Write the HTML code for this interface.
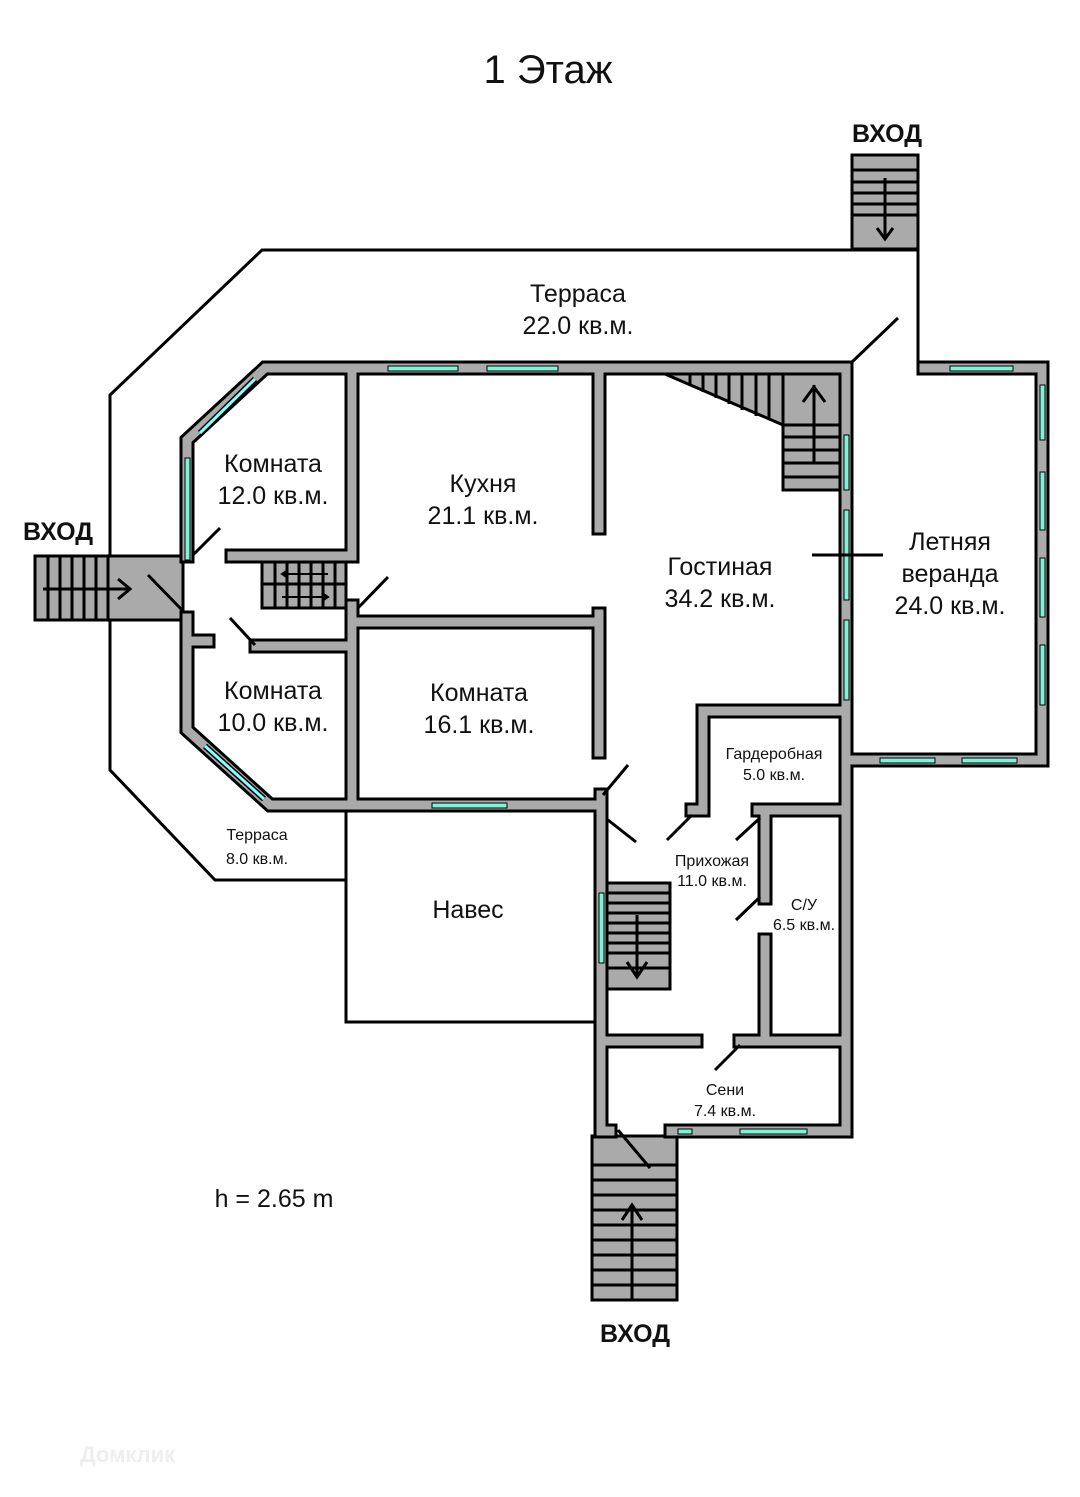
<!DOCTYPE html>
<html><head><meta charset="utf-8"><style>
html,body{margin:0;padding:0;background:#fff}
svg{display:block}
text{font-family:"Liberation Sans",sans-serif;fill:#111}
.b{fill:none;stroke:#000;stroke-width:15;stroke-linecap:square}
.g{fill:none;stroke:#aaa;stroke-width:9;stroke-linecap:square}
.t{fill:none;stroke:#000;stroke-width:3}
.win{fill:#7ff3d6;stroke:#000;stroke-width:1}
.st{fill:#aaa;stroke:#000;stroke-width:3}
.sl{stroke:#000;stroke-width:3}
</style></head><body>
<svg width="1080" height="1497" viewBox="0 0 1080 1497" xmlns="http://www.w3.org/2000/svg">
<text x="548" y="83" font-size="40" text-anchor="middle">1 Этаж</text>
<text x="887" y="142" font-size="25" font-weight="bold" text-anchor="middle">ВХОД</text>
<text x="58" y="540" font-size="25" font-weight="bold" text-anchor="middle">ВХОД</text>
<text x="635" y="1342" font-size="25" font-weight="bold" text-anchor="middle">ВХОД</text>

<path class="t" d="M918,250 L262,250 L110,395 L110,770 L215,880 L346,880"/>
<path class="t" d="M918,250 L918,362"/>
<path class="t" d="M346,811 L346,1022 L595,1022"/>

<rect class="st" x="852" y="155" width="66" height="94"/>
<g class="sl"><line x1="852" y1="170" x2="918" y2="170"/><line x1="852" y1="182" x2="918" y2="182"/><line x1="852" y1="193" x2="918" y2="193"/><line x1="852" y1="204" x2="918" y2="204"/><line x1="852" y1="215" x2="918" y2="215"/><line x1="885" y1="178" x2="885" y2="238"/></g>
<path class="t" d="M877,228 L885,239 L893,228"/>

<rect class="st" x="35" y="556" width="148" height="64"/>
<g class="sl"><line x1="48" y1="556" x2="48" y2="620"/><line x1="60" y1="556" x2="60" y2="620"/><line x1="72" y1="556" x2="72" y2="620"/><line x1="84" y1="556" x2="84" y2="620"/><line x1="96" y1="556" x2="96" y2="620"/><line x1="108" y1="556" x2="108" y2="620"/><line x1="43" y1="589" x2="130" y2="589"/></g>
<path class="t" d="M118,579 L130,589 L118,599"/>
<line class="sl" x1="148" y1="575" x2="182" y2="610"/>

<rect class="st" x="262" y="560" width="84" height="48"/>
<g class="sl"><line x1="275" y1="560" x2="275" y2="608"/><line x1="287" y1="560" x2="287" y2="608"/><line x1="299" y1="560" x2="299" y2="608"/><line x1="311" y1="560" x2="311" y2="608"/><line x1="323" y1="560" x2="323" y2="608"/><line x1="335" y1="560" x2="335" y2="608"/><line x1="262" y1="584" x2="346" y2="584"/></g>
<g stroke="#000" stroke-width="2" fill="none"><line x1="282" y1="574" x2="328" y2="574"/><path d="M288,570 L282,574 L288,578"/><line x1="282" y1="597" x2="328" y2="597"/><path d="M322,593 L328,597 L322,601"/></g>

<path class="st" d="M665,374 L783,374 L783,425 Z"/>
<g class="sl"><line x1="690" y1="374" x2="690" y2="386"/><line x1="703" y1="374" x2="703" y2="392"/><line x1="716" y1="374" x2="716" y2="398"/><line x1="729" y1="374" x2="729" y2="404"/><line x1="742" y1="374" x2="742" y2="410"/><line x1="756" y1="374" x2="756" y2="416"/><line x1="769" y1="374" x2="769" y2="420"/></g>
<rect class="st" x="783" y="374" width="58" height="116"/>
<g class="sl"><line x1="783" y1="425" x2="841" y2="425"/><line x1="783" y1="437" x2="841" y2="437"/><line x1="783" y1="450" x2="841" y2="450"/><line x1="783" y1="463" x2="841" y2="463"/><line x1="783" y1="477" x2="841" y2="477"/><line x1="814" y1="385" x2="814" y2="463"/></g>
<path class="t" d="M803,402 L814,387 L825,402"/>

<rect class="st" x="605" y="883" width="65" height="106"/>
<g class="sl"><line x1="605" y1="893" x2="670" y2="893"/><line x1="605" y1="903" x2="670" y2="903"/><line x1="605" y1="913" x2="670" y2="913"/><line x1="605" y1="923" x2="670" y2="923"/><line x1="605" y1="933" x2="670" y2="933"/><line x1="605" y1="943" x2="670" y2="943"/><line x1="605" y1="953" x2="670" y2="953"/><line x1="605" y1="968" x2="670" y2="968"/><line x1="637" y1="915" x2="637" y2="977"/></g>
<path class="t" d="M627,962 L637,977 L647,962"/>

<rect class="st" x="592" y="1136" width="85" height="164"/>
<g class="sl"><line x1="592" y1="1165" x2="677" y2="1165"/><line x1="592" y1="1180" x2="677" y2="1180"/><line x1="592" y1="1195" x2="677" y2="1195"/><line x1="592" y1="1210" x2="677" y2="1210"/><line x1="592" y1="1225" x2="677" y2="1225"/><line x1="592" y1="1240" x2="677" y2="1240"/><line x1="592" y1="1255" x2="677" y2="1255"/><line x1="592" y1="1270" x2="677" y2="1270"/><line x1="592" y1="1285" x2="677" y2="1285"/><line x1="632" y1="1205" x2="632" y2="1300"/></g>
<path class="t" d="M622,1220 L632,1205 L642,1220"/>

<g class="b">
<path d="M187,556 L187,440 L265,368 L846,368 L846,1131 L671,1131"/>
<path d="M187,618 L187,730 L270,805 L601,805"/>
<path d="M601,795 L601,1131 L610,1131"/>
<path d="M924,368 L1042,368 L1042,760 L852,760"/>
<path d="M599,374 L599,528"/>
<path d="M352,374 L352,556 L232,556"/>
<path d="M352,606 L352,805"/>
<path d="M352,622 L599,622"/><path d="M599,614 L599,752"/>
<path d="M256,646 L346,646"/><path d="M193,641 L208,641"/>
<path d="M703,808 L703,711 L846,711"/><path d="M692,810 L703,810"/>
<path d="M758,810 L846,810"/>
<path d="M765,810 L765,898"/><path d="M765,940 L765,1041"/>
<path d="M740,1041 L846,1041"/><path d="M601,1041 L696,1041"/>
</g>
<g class="g">
<path d="M187,556 L187,440 L265,368 L846,368 L846,1131 L671,1131"/>
<path d="M187,618 L187,730 L270,805 L601,805"/>
<path d="M601,795 L601,1131 L610,1131"/>
<path d="M924,368 L1042,368 L1042,760 L852,760"/>
<path d="M599,374 L599,528"/>
<path d="M352,374 L352,556 L232,556"/>
<path d="M352,606 L352,805"/>
<path d="M352,622 L599,622"/><path d="M599,614 L599,752"/>
<path d="M256,646 L346,646"/><path d="M193,641 L208,641"/>
<path d="M703,808 L703,711 L846,711"/><path d="M692,810 L703,810"/>
<path d="M758,810 L846,810"/>
<path d="M765,810 L765,898"/><path d="M765,940 L765,1041"/>
<path d="M740,1041 L846,1041"/><path d="M601,1041 L696,1041"/>
</g>

<g class="win">
<rect x="388" y="366" width="70" height="5"/><rect x="487" y="366" width="71" height="5"/>
<rect x="185" y="458" width="5" height="102"/>
<rect x="432" y="803" width="75" height="5"/>
<rect x="844" y="435" width="5" height="55"/><rect x="844" y="510" width="5" height="90"/><rect x="844" y="620" width="5" height="80"/>
<rect x="950" y="366" width="63" height="5"/>
<rect x="1040" y="385" width="5" height="55"/><rect x="1040" y="472" width="5" height="58"/><rect x="1040" y="558" width="5" height="59"/><rect x="1040" y="645" width="5" height="60"/>
<rect x="880" y="758" width="55" height="5"/><rect x="962" y="758" width="55" height="5"/>
<rect x="599" y="893" width="5" height="70"/>
<rect x="678" y="1129" width="14" height="5"/><rect x="740" y="1129" width="67" height="5"/>
</g>
<line x1="200" y1="433" x2="255" y2="379" stroke="#000" stroke-width="6"/><line x1="200" y1="433" x2="255" y2="379" stroke="#8ff" stroke-width="3"/>
<line x1="205" y1="746" x2="264" y2="799" stroke="#000" stroke-width="6"/><line x1="205" y1="746" x2="264" y2="799" stroke="#8ff" stroke-width="3"/>

<g class="sl">
<line x1="193" y1="555" x2="220" y2="528"/>
<line x1="230" y1="618" x2="255" y2="645"/>
<line x1="358" y1="608" x2="388" y2="577"/>
<line x1="852" y1="362" x2="898" y2="318"/>
<line x1="812" y1="555" x2="883" y2="555"/>
<line x1="603" y1="795" x2="628" y2="765"/>
<line x1="608" y1="820" x2="636" y2="842"/>
<line x1="667" y1="840" x2="692" y2="815"/>
<line x1="736" y1="840" x2="760" y2="818"/>
<line x1="736" y1="920" x2="760" y2="897"/>
<line x1="715" y1="1070" x2="740" y2="1045"/>
<line x1="618" y1="1130" x2="650" y2="1168"/>
</g>

<g font-size="25" text-anchor="middle">
<text x="578" y="302">Терраса</text><text x="578" y="334">22.0 кв.м.</text>
<text x="273" y="472">Комната</text><text x="273" y="504">12.0 кв.м.</text>
<text x="483" y="492">Кухня</text><text x="483" y="524">21.1 кв.м.</text>
<text x="720" y="575">Гостиная</text><text x="720" y="607">34.2 кв.м.</text>
<text x="950" y="550">Летняя</text><text x="950" y="582">веранда</text><text x="950" y="614">24.0 кв.м.</text>
<text x="273" y="699">Комната</text><text x="273" y="731">10.0 кв.м.</text>
<text x="479" y="701">Комната</text><text x="479" y="733">16.1 кв.м.</text>
<text x="468" y="918">Навес</text>
<text x="274" y="1207">h = 2.65 m</text>
</g>
<g font-size="16" text-anchor="middle">
<text x="774" y="759">Гардеробная</text><text x="774" y="780">5.0 кв.м.</text>
<text x="257" y="840">Терраса</text><text x="257" y="864">8.0 кв.м.</text>
<text x="712" y="866">Прихожая</text><text x="712" y="886">11.0 кв.м.</text>
<text x="804" y="910">С/У</text><text x="804" y="930">6.5 кв.м.</text>
<text x="725" y="1095">Сени</text><text x="725" y="1116">7.4 кв.м.</text>
</g>
<text x="80" y="1462" font-size="22" font-weight="bold" style="fill:#eee">Домклик</text>
</svg>
</body></html>
